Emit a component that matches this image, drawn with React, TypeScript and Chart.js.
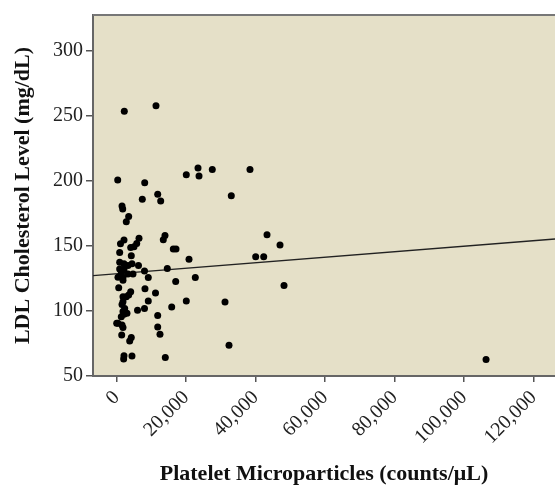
import { useEffect, useRef } from 'react';
import { Chart, registerables } from 'chart.js';

Chart.register(...registerables);

// Platelet microparticles (counts/µL)
const xValues = [
  2190, 11310, 290, 8060, 20030, 23400, 23690, 27510, 38360, 32980,
  11800, 12660, 7370, 1530, 1730, 3450, 2760, 43260, 47000, 40000,
  42310, 48150, 31170, 32320, 20030, 20810, 22620, 16980, 14560, 16290,
  17070, 13900, 13410, 15830, 11170, 11800, 11800, 12460, 13990, 9090,
  8000, 8140, 9090, 8000, 5990, 6420, 5760, 6270, 4400, 2100,
  2000, 4200, 3740, 1440, 1810, 580, 4030, 3450, 2760, 1810,
  1810, 1530, 2300, 1810, 2100, 1320, 370, 1530, 0, 1810,
  1090, 2100, 4030, 4980, 860, 4200, 860, 2100, 3250, 4400,
  860, 1320, 2100, 3250, 370, 1810, 4690, 2960, 106300,
];
// LDL cholesterol (mg/dL)
const yValues = [
  253.6, 257.7, 200.6, 198.5, 204.7, 209.8, 203.7, 208.8, 208.8, 188.6,
  189.7, 184.6, 185.8, 180.7, 178.4, 172.7, 168.6, 158.6, 150.7, 141.7,
  141.7, 119.6, 106.8, 73.7, 107.6, 139.7, 125.7, 122.6, 132.6, 147.6,
  147.6, 158, 154.7, 103, 113.8, 96.6, 87.7, 82.1, 64.3, 125.7,
  130.7, 117, 107.7, 101.8, 100.6, 155.9, 151.9, 134.9, 65.4, 65.5,
  63.0, 79.6, 77, 81.6, 123.6, 117.8, 114.7, 112.2, 110.9, 110.9,
  107.1, 105, 101.9, 99.5, 97.4, 95.6, 90.5, 89.2, 90.5, 87.2,
  151.6, 154.5, 148.8, 149.4, 145, 142.5, 137.4, 136.2, 134.9, 136.2,
  132.3, 129, 131.6, 128.5, 125.9, 125.9, 128.5, 98.2, 62.7,
];

// Fitted regression line end points
const fitX = [-6820, 126140];
const fitY = [127.2, 155.3];

const xTicks = [0, 20000, 40000, 60000, 80000, 100000, 120000];
const yTicks = [50, 100, 150, 200, 250, 300];

const xTitle = 'Platelet Microparticles (counts/\u03BCL)';
const yTitle = 'LDL Cholesterol Level (mg/dL)';

const FONT = '"Liberation Serif", "Times New Roman", serif';

const bgPlugin = {
  id: 'bgPlugin',
  beforeDraw(chart: any) {
    const { ctx, chartArea } = chart;
    if (!chartArea) return;
    ctx.save();
    ctx.fillStyle = '#e5e0c8';
    ctx.fillRect(chartArea.left, chartArea.top, chartArea.right - chartArea.left, chartArea.bottom - chartArea.top);
    ctx.restore();
  },
  afterDraw(chart: any) {
    const { ctx, chartArea } = chart;
    if (!chartArea) return;
    ctx.save();
    ctx.strokeStyle = '#777';
    ctx.lineWidth = 2;
    ctx.beginPath();
    ctx.moveTo(chartArea.left, chartArea.top);
    ctx.lineTo(chartArea.right, chartArea.top);
    ctx.stroke();
    ctx.restore();
  },
};

export default function App() {
  const ref = useRef<HTMLCanvasElement>(null);
  useEffect(() => {
    if (!ref.current) return;
    const chart = new Chart(ref.current, {
      type: 'scatter',
      data: {
        datasets: [
          {
            type: 'scatter',
            data: xValues.map((x, i) => ({ x, y: yValues[i] })),
            backgroundColor: '#000',
            borderColor: '#000',
            pointRadius: 3.5,
            pointBorderWidth: 0,
          } as any,
          {
            type: 'line',
            data: fitX.map((x, i) => ({ x, y: fitY[i] })),
            borderColor: '#222',
            borderWidth: 1.3,
            pointRadius: 0,
            fill: false,
          } as any,
        ],
      },
      options: {
        responsive: false,
        animation: false,
        maintainAspectRatio: false,
        layout: { autoPadding: false, padding: { top: 13, left: 0, right: 0, bottom: 0 } },
        plugins: { legend: { display: false }, tooltip: { enabled: false } },
        scales: {
          x: {
            type: 'linear',
            min: fitX[0],
            max: fitX[1],
            afterBuildTicks: (s: any) => {
              s.ticks = xTicks.map((v) => ({ value: v }));
            },
            afterFit: (s: any) => {
              s.height = 120;
              s.paddingRight = 0;
              s.paddingLeft = 0;
            },
            ticks: {
              maxRotation: 45,
              minRotation: 45,
              autoSkip: false,
              padding: 4,
              color: '#222',
              font: { family: FONT, size: 20 },
              callback: (v: any) => Number(v).toLocaleString('en-US'),
            },
            grid: { drawOnChartArea: false, drawTicks: true, tickLength: 6, color: '#555', lineWidth: 1.5 },
            border: { display: true, color: '#666', width: 2 },
            title: {
              display: true,
              text: xTitle,
              color: '#111',
              font: { family: FONT, size: 22, weight: 'bold' },
              padding: { top: 4, bottom: 8 },
            },
          },
          y: {
            type: 'linear',
            min: 50,
            max: 327.5,
            afterBuildTicks: (s: any) => {
              s.ticks = yTicks.map((v) => ({ value: v }));
            },
            afterFit: (s: any) => {
              s.width = 93;
            },
            ticks: {
              padding: 3,
              color: '#222',
              font: { family: FONT, size: 20 },
            },
            grid: { drawOnChartArea: false, drawTicks: true, tickLength: 7, color: '#555', lineWidth: 1.5 },
            border: { display: true, color: '#666', width: 2 },
            title: {
              display: true,
              text: yTitle,
              color: '#111',
              font: { family: FONT, size: 22, weight: 'bold' },
              padding: { top: 10, bottom: 0 },
            },
          },
        },
      } as any,
      plugins: [bgPlugin],
    });
    return () => chart.destroy();
  }, []);
  return (
    <div style={{ position: 'fixed', left: 0, top: 0, width: 555, height: 496 }}>
      <canvas ref={ref} width={555} height={496} style={{ display: 'block' }} />
    </div>
  );
}
